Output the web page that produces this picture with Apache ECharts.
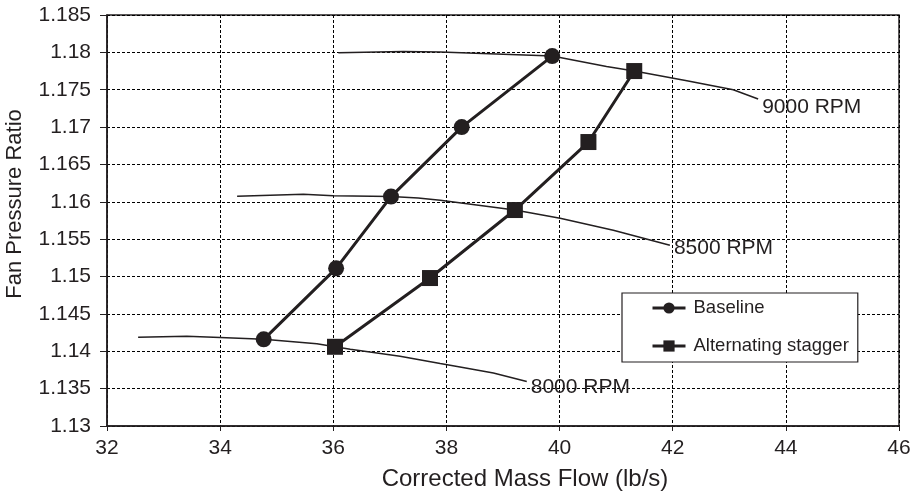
<!DOCTYPE html>
<html>
<head>
<meta charset="utf-8">
<script src="https://cdn.jsdelivr.net/npm/echarts@6/dist/echarts.min.js"></script>
<style>
html,body{margin:0;padding:0;background:#fff;}
#c{width:914px;height:492px;}
</style>
</head>
<body>
<div id="c"></div>
<script>
// Main series
const baselineX = [34.77, 36.05, 37.02, 38.27, 39.87];
const baselineY = [1.1416, 1.1511, 1.1607, 1.1700, 1.1795];
const staggerX = [36.03, 37.71, 39.21, 40.51, 41.32];
const staggerY = [1.1406, 1.1498, 1.1589, 1.1680, 1.1775];

// Speed lines
const rpm9000X = [36.09, 37.24, 37.89, 39.13, 39.87, 40.83, 41.32, 42.25, 43.07, 43.51];
const rpm9000Y = [1.17995, 1.1801, 1.18005, 1.1797, 1.1795, 1.1781, 1.1775, 1.1762, 1.1750, 1.17375];
const rpm8500X = [34.30, 35.47, 36.0, 37.02, 37.5, 37.89, 39.21, 40.01, 40.95, 41.95];
const rpm8500Y = [1.16076, 1.1610, 1.1608, 1.1607, 1.1605, 1.1602, 1.1589, 1.1578, 1.1562, 1.1542];
const rpm8000X = [32.55, 33.41, 34.0, 34.77, 35.71, 36.03, 36.30, 37.18, 37.89, 38.24, 38.83, 39.42];
const rpm8000Y = [1.14188, 1.1420, 1.14184, 1.1416, 1.1410, 1.1406, 1.14027, 1.13933, 1.13836, 1.1379, 1.1371, 1.13595];

const speedNames = ['8000 RPM', '8500 RPM', '9000 RPM'];
const seriesNames = ['Baseline', 'Alternating stagger'];
const xTitle = 'Corrected Mass Flow (lb/s)';
const yTitle = 'Fan Pressure Ratio';

const zip = (xs, ys) => xs.map((x, i) => [x, ys[i]]);
const ink = '#231f20';
const font = '"Liberation Sans", Arial, sans-serif';

function speedSeries(name, xs, ys, dy) {
  return {
    name: name, type: 'line', data: zip(xs, ys), symbol: 'none',
    lineStyle: {color: ink, width: 1.5}, itemStyle: {color: ink},
    z: 2, silent: true, animation: false,
    endLabel: {show: true, formatter: '{a}', distance: 4, offset: [0, dy],
      color: ink, fontFamily: font, fontSize: 21}
  };
}

const chart = echarts.init(document.getElementById('c'), null, {renderer: 'canvas'});
chart.setOption({
  animation: false,
  backgroundColor: '#fff',
  grid: {left: 107, right: 15, top: 15, bottom: 66, show: true, borderColor: ink, borderWidth: 1.5, backgroundColor: 'transparent'},
  xAxis: {
    type: 'value', min: 32, max: 46, interval: 2,
    axisLine: {show: true, lineStyle: {color: ink, width: 1.5}},
    axisTick: {show: true, length: 5, lineStyle: {color: ink, width: 1}},
    axisLabel: {color: ink, fontFamily: font, fontSize: 21, margin: 12},
    splitLine: {show: true, lineStyle: {color: '#000', width: 1, type: [3, 2]}}
  },
  yAxis: {
    type: 'value', min: 1.13, max: 1.185, interval: 0.005,
    axisLine: {show: true, lineStyle: {color: ink, width: 1.5}},
    axisTick: {show: true, length: 7, lineStyle: {color: ink, width: 1}},
    axisLabel: {color: ink, fontFamily: font, fontSize: 21, margin: 16,
      formatter: v => String(+v.toFixed(3))},
    splitLine: {show: true, lineStyle: {color: '#000', width: 1, type: [3, 2]}}
  },
  legend: {
    data: seriesNames, orient: 'vertical', left: 622, top: 293,
    padding: [5, 9, 6, 29], itemWidth: 33, itemHeight: 14, itemGap: 18,
    borderColor: ink, borderWidth: 1.2, backgroundColor: '#fff',
    lineStyle: {width: 3},
    textStyle: {color: ink, fontFamily: font, fontSize: 18.5, lineHeight: 20, padding: [0, 0, 0, 3]}
  },
  graphic: [
    {type: 'text', x: 525, y: 479, style: {text: xTitle, fill: ink, font: '24px ' + font, textAlign: 'center', textVerticalAlign: 'middle'}},
    {type: 'text', rotation: Math.PI / 2, x: 15, y: 204, style: {text: yTitle, fill: ink, font: '22px ' + font, textAlign: 'center', textVerticalAlign: 'middle'}}
  ],
  series: [
    speedSeries(speedNames[0], rpm8000X, rpm8000Y, 5.5),
    speedSeries(speedNames[1], rpm8500X, rpm8500Y, 3.5),
    speedSeries(speedNames[2], rpm9000X, rpm9000Y, 7.7),
    {name: seriesNames[0], type: 'line', data: zip(baselineX, baselineY),
      symbol: 'circle', symbolSize: 16, z: 5,
      lineStyle: {color: ink, width: 3}, itemStyle: {color: ink}},
    {name: seriesNames[1], type: 'line', data: zip(staggerX, staggerY),
      symbol: 'rect', symbolSize: 16, z: 5,
      lineStyle: {color: ink, width: 3}, itemStyle: {color: ink}}
  ]
});
</script>
</body>
</html>
